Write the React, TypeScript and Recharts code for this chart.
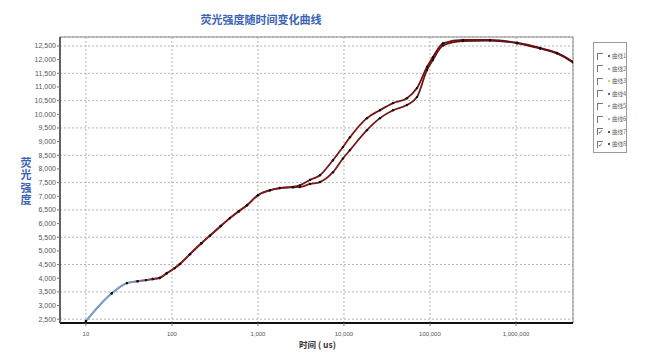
import React from "react";
import { LineChart, Line, XAxis, YAxis, CartesianGrid, ReferenceArea } from "recharts";

// time in us (log scale) and fluorescence intensity
const times = [
  10, 20, 30, 40, 50, 60, 72, 87, 108, 124, 162, 220, 277, 370, 472, 600, 745, 1000, 1380, 1800, 2560,
  3070, 4040, 5260, 7450, 9730, 11750, 18500, 26200, 37200, 54000, 70600, 92300, 108000, 141600, 242000,
  499000, 1030000, 1900000, 3000000, 4600000,
];
const curve7 = [
  2430, 3450, 3820, 3890, 3930, 3970, 4010, 4180, 4370, 4520, 4880, 5280, 5560, 5910, 6200, 6450, 6670, 7040,
  7220, 7300, 7340, 7400, 7600, 7770, 8320, 8800, 9160, 9860, 10150, 10410, 10590, 10960, 11730, 12090, 12600,
  12720, 12720, 12620, 12430, 12250, 11920,
];
const curve8 = [
  2430, 3450, 3820, 3890, 3930, 3970, 4010, 4180, 4370, 4520, 4880, 5280, 5560, 5910, 6200, 6450, 6670, 7040,
  7220, 7300, 7330, 7340, 7450, 7520, 7880, 8380, 8690, 9420, 9860, 10150, 10340, 10630, 11620, 11990, 12520,
  12680, 12700, 12600, 12410, 12230, 11900,
];

const xTicks = [10, 100, 1000, 10000, 100000, 1000000];
const minorTicks = [
  20, 30, 40, 50, 60, 70, 80, 90, 200, 300, 400, 500, 600, 700, 800, 900, 2000, 3000, 4000, 5000, 6000, 7000,
  8000, 9000, 20000, 30000, 40000, 50000, 60000, 70000, 80000, 90000, 200000, 300000, 400000, 500000, 600000,
  700000, 800000, 900000, 2000000, 3000000, 4000000,
];
const yTicks = [
  2500, 3000, 3500, 4000, 4500, 5000, 5500, 6000, 6500, 7000, 7500, 8000, 8500, 9000, 9500, 10000, 10500,
  11000, 11500, 12000, 12500,
];

const legendNames = ["曲线1", "曲线2", "曲线3", "曲线4", "曲线5", "曲线6", "曲线7", "曲线8"];
const legendChecked = [false, false, false, false, false, false, true, true];
const legendDots = ["#333", "#888", "#b9c44e", "#24398a", "#888", "#999", "#222", "#222"];

const data = times.map((t, i) => ({ t, c7: curve7[i], c8: curve8[i] }));

const blue = "#3b63b3";
const fmt = (v: number) => v.toLocaleString("en-US");
const emptyTick = () => <g />;

export default function App() {
  return (
    <div
      style={{
        position: "absolute",
        left: 0,
        top: 0,
        width: 650,
        height: 356,
        background: "#fff",
        fontFamily: "'Liberation Sans', Arial, sans-serif",
      }}
    >
      <div
        style={{
          position: "absolute",
          left: 161,
          top: 11,
          width: 200,
          textAlign: "center",
          color: blue,
          fontSize: 11,
          fontWeight: "bold",
          fontFamily: "'Noto Sans CJK SC', sans-serif",
        }}
      >
        荧光强度随时间变化曲线
      </div>
      <div
        style={{
          position: "absolute",
          left: 19,
          top: 157,
          color: blue,
          fontSize: 11,
          lineHeight: "13px",
          letterSpacing: 1.5,
          fontWeight: "bold",
          writingMode: "vertical-rl",
          textOrientation: "upright",
          fontFamily: "'Noto Sans CJK SC', sans-serif",
        }}
      >
        荧光强度
      </div>
      <div
        style={{
          position: "absolute",
          left: 299,
          top: 338,
          color: "#333",
          fontSize: 8.5,
          fontWeight: "bold",
          whiteSpace: "nowrap",
          fontFamily: "'Noto Sans CJK SC', sans-serif",
        }}
      >
        时间 ( us)
      </div>

      <LineChart width={650} height={356} data={data} margin={{ top: 37, right: 77, bottom: 8, left: 0 }}>
        <defs>
          <linearGradient id="lineGrad" x1="0" y1="0" x2="1" y2="0">
            <stop offset="0%" stopColor="#7d9cc2" />
            <stop offset="9%" stopColor="#7d9cc2" />
            <stop offset="15%" stopColor="#8b1c1c" />
            <stop offset="100%" stopColor="#5e1010" />
          </linearGradient>
        </defs>
        <CartesianGrid strokeDasharray="2 2" stroke="#b5b5b5" />
        <XAxis
          xAxisId="minor"
          dataKey="t"
          type="number"
          scale="log"
          domain={[5, 4600000]}
          allowDataOverflow
          ticks={minorTicks}
          tick={emptyTick}
          tickSize={2}
          axisLine={false}
          tickLine={{ stroke: "#777" }}
          height={0}
        />
        <XAxis
          dataKey="t"
          type="number"
          scale="log"
          domain={[5, 4600000]}
          allowDataOverflow
          ticks={xTicks}
          tickFormatter={fmt}
          tick={{ fontSize: 6, fill: "#555" }}
          tickSize={3}
          tickMargin={6}
          axisLine={{ stroke: "#111", strokeWidth: 2 }}
          tickLine={{ stroke: "#777" }}
          height={25}
        />
        <YAxis
          type="number"
          domain={[2360, 12830]}
          allowDataOverflow
          ticks={yTicks}
          tickFormatter={fmt}
          tick={{ fontSize: 7, fill: "#555" }}
          tickSize={3}
          tickMargin={1}
          axisLine={{ stroke: "#444", strokeWidth: 1.5 }}
          tickLine={{ stroke: "#777" }}
          width={60}
        />
        <ReferenceArea x1={5} x2={4600000} y1={2360} y2={12830} fill="none" stroke="#8a8a8a" />
        <Line
          type="monotone"
          dataKey="c8"
          stroke="url(#lineGrad)"
          strokeWidth={1.8}
          dot={{ r: 1.2, fill: "#111", stroke: "none" }}
          isAnimationActive={false}
        />
        <Line
          type="monotone"
          dataKey="c7"
          stroke="url(#lineGrad)"
          strokeWidth={1.8}
          dot={{ r: 1.2, fill: "#111", stroke: "none" }}
          isAnimationActive={false}
        />
      </LineChart>

      <div
        style={{
          position: "absolute",
          left: 593,
          top: 42,
          width: 32,
          height: 109,
          border: "1px solid #9a9a9a",
          background: "#fff",
        }}
      >
        {legendNames.map((name, i) => (
          <div
            key={name}
            style={{
              position: "absolute",
              left: 3,
              top: 9 + i * 12.6,
              height: 8,
              display: "flex",
              alignItems: "center",
              whiteSpace: "nowrap",
            }}
          >
            <div
              style={{
                width: 5,
                height: 6,
                borderLeft: "1px solid #777",
                borderTop: "1px solid #777",
                fontSize: 6,
                lineHeight: "6px",
                color: "#333",
              }}
            >
              {legendChecked[i] ? "✓" : ""}
            </div>
            <div
              style={{
                width: 2,
                height: 2,
                borderRadius: 1,
                background: legendDots[i],
                marginLeft: 5,
              }}
            />
            <div
              style={{
                marginLeft: 2,
                fontSize: 5.5,
                color: "#666",
                fontFamily: "'Noto Sans CJK SC', sans-serif",
              }}
            >
              {name}
            </div>
          </div>
        ))}
      </div>
    </div>
  );
}
